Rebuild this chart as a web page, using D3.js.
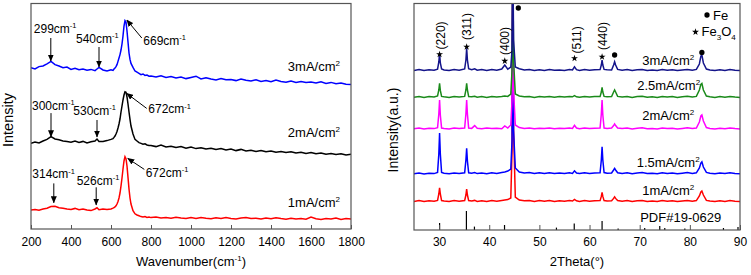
<!DOCTYPE html>
<html><head><meta charset="utf-8">
<script src="https://cdn.jsdelivr.net/npm/d3@7"></script>
<style>body{margin:0;background:#fff} svg{display:block;font-family:"Liberation Sans",Arial,sans-serif}</style>
</head><body><svg id="c" width="751" height="275"></svg>
<script>
// ---------------- Raman data (left panel) ----------------
const ramanX = [200,220,240,260,280,300,320,340,360,380,400,420,440,460,480,500,520,530,540,560,580,600,
 610,615,620,625,630,635,640,645,650,655,660,665,670,675,680,685,690,695,700,
 710,720,730,740,750,760,770,780,790,
 800,825,850,875,900,925,950,975,1000,1025,1050,1075,1100,1125,1150,1175,1200,1225,1250,1275,1300,1325,1350,1375,1400,1425,1450,1475,1500,1525,1550,1575,1600,1625,1650,1675,1700,1725,1750,1775,1800];
const raman3mA = [806,800,812,815,826,838,822,815,806,810,798,804,796,800,794,798,792,800,808,795,790,796,
 793,800,805,812,822,838,855,872,895,925,965,1015,1042,1035,990,935,880,848,828,
 808,790,784,778,772,775,768,770,764,
 765,760,766,758,762,755,760,752,758,764,750,756,750,745,752,746,748,742,750,744,740,746,738,742,736,745,738,734,740,733,738,732,735,730,736,728,733,726,730,724,722];
const raman2mA = [428,435,430,440,448,462,450,446,440,437,434,440,433,438,430,436,440,450,438,437,442,448,
 452,458,465,475,488,505,525,550,585,615,645,670,686,684,660,625,585,548,515,
 475,448,440,432,428,424,426,420,418,
 418,412,420,410,414,408,412,404,410,402,406,400,404,398,402,395,400,392,398,390,394,388,392,386,390,384,388,382,386,380,384,378,382,376,380,374,378,372,376,370,374];
const raman1mA = [95,98,94,100,104,112,114,106,104,100,98,103,96,100,95,92,100,106,96,100,97,100,
 104,107,110,116,125,138,155,180,215,255,300,340,362,352,315,258,200,155,125,
 92,76,70,66,62,60,62,58,60,
 57,60,55,58,54,59,55,52,57,53,58,54,51,56,52,57,53,50,55,58,52,54,50,55,51,56,52,49,54,50,53,49,60,51,48,53,50,55,48,52,50];
const ramanSeries = ["3mA/cm", "2mA/cm", "1mA/cm"];
const ramanColors = ["#0000ff", "#000000", "#ff0000"];
const ramanTicks = [200,400,600,800,1000,1200,1400,1600,1800];
// annotations (wavenumber, intensity at arrow tip)
const noteText = ["299","540","669","300","530","672","314","526","672"];
const noteWn   = [299,540,669,300,530,672,314,526,672];
const noteVal  = [840,810,1045,461,460,678,131,120,353];

// ---------------- XRD data (right panel) ----------------
const xrdX = [25,26,27,28,29, 29.7,29.95,30.1,30.25,30.5, 31,32,33,34, 35.1,35.35,35.5,35.65,35.9,
 36.5,37.1,37.6,38.5,39.5,40.5,41.5,42.5, 43.1,43.7, 44.3,44.55,44.7,44.85,45.2,
 46,47,48,49,50,51,52,53,54,55,56, 56.6,57,57.4, 58,59,60,61, 62.1,62.35,62.5,62.65,62.9, 63.5,
 64.4,64.8,65,65.2,65.6, 66.5,67.5,68.5,69.5,70.5,71.5,72.5,73.5,74.5,75.5,76.5,77.5,78.5,79.5,80.5,
 81.3,81.9,82.2,82.4,82.7,83.3, 84,85,86,87,88,89,90];
const xrd3mA = [798,803,797,801,799, 804,840,883,835,805, 800,797,802,799, 805,850,908,850,806,
 801,806,799,802,797,803,799,805, 825,804, 815,900,1400,950,815,
 806,800,803,797,801,798,802,799,800,797,802, 800,816,802, 798,803,799,801, 802,825,850,825,803, 801,
 800,825,841,825,803, 799,802,797,801,803,798,800,797,802,799,801,797,800,803,799,
 803,830,870,875,835,805, 800,797,801,798,802,799,797];
const xrd25mA = [664,668,663,667,665, 670,700,733,698,668, 666,663,668,665, 668,700,733,700,667,
 666,669,664,667,663,668,665,667, 670,668, 680,800,1400,850,680,
 670,666,668,663,667,665,668,664,667,665,668, 666,672,666, 664,668,665,667, 667,690,713,690,668, 666,
 667,690,700,690,668, 665,668,663,667,669,664,666,663,668,665,667,663,666,669,665,
 668,700,728,733,700,670, 666,663,667,664,668,665,663];
const xrd2mA = [506,510,505,509,507, 512,580,650,575,510, 508,505,510,507, 510,580,650,580,510,
 508,522,509,506,510,507,509,506, 520,510, 525,650,1400,700,525,
 512,508,510,506,509,507,510,506,509,507,510, 508,523,510, 506,510,507,509, 510,580,650,575,510, 508,
 510,522,530,522,510, 507,510,505,509,511,506,508,505,510,507,509,505,508,511,507,
 510,540,570,575,545,512, 508,505,509,506,510,507,505];
const xrd15mA = [281,285,280,284,282, 288,380,485,380,288, 284,281,285,282, 286,350,408,345,286,
 284,287,282,285,281,286,283,288, 290,295, 305,450,1400,500,310,
 290,285,287,282,286,283,286,282,285,283,286, 283,296,285, 282,286,283,285, 286,350,416,350,287, 284,
 285,300,308,300,286, 283,286,281,285,287,282,284,281,286,283,285,281,284,287,283,
 286,310,335,341,315,288, 284,281,285,282,286,283,281];
const xrd1mA = [143,147,142,146,144, 148,180,211,180,147, 145,142,147,144, 147,175,205,175,147,
 145,148,143,146,142,147,144,148, 150,152, 160,400,1400,500,165,
 150,146,148,143,147,144,147,143,146,144,147, 145,153,146, 143,147,144,146, 147,168,188,168,147, 145,
 146,158,166,158,147, 144,147,142,146,148,143,145,142,147,144,146,142,145,148,144,
 147,170,190,195,175,148, 145,142,146,143,147,144,142];
const xrdSeries = ["3mA/cm", "2.5mA/cm", "2mA/cm", "1.5mA/cm", "1mA/cm"];
const xrdColors = ["#14148a", "#1a8a1a", "#ff00ff", "#0000ff", "#ff0000"];
const xrdLabelPos = [70.5, 69.5, 70.5, 69.4, 70.5];
const xrdLabelVal = [825, 700, 550, 316, 175];
const xrdTicks = [30,40,50,60,70,80,90];
// PDF#19-0629 reference sticks
const pdfPos = [30.1,35.45,37.05,43.05,53.4,56.95,62.5,65.7,71.0,74.0,75.0,79.0,86.7,89.6];
const pdfVal = [35,95,17,25,12,33,45,8,10,20,10,8,10,15];
// phase markers
const hklText = ["(220)","(311)","(400)","(511)","(440)"];
const starPos = [30.1,35.5,43.1,57.0,62.5];
const starVal = [878,916,845,858,866];
const fePos = [45.8,65.0,82.4];
const feVal = [1110,875,888];

// ---------------- drawing ----------------
const svg = d3.select("#c");
const defs = svg.append("defs");
defs.append("marker").attr("id","ah").attr("markerUnits","userSpaceOnUse")
  .attr("markerWidth",7).attr("markerHeight",6).attr("refX",6.5).attr("refY",3).attr("orient","auto")
  .append("path").attr("d","M0,0L7,3L0,6Z").attr("fill","#000");

function rich(sel, parts, size) {
  let shift = 0;
  parts.forEach(([t, k]) => {
    const target = k === "sup" ? -size * 0.4 : k === "sub" ? size * 0.28 : 0;
    const ts = sel.append("tspan").text(t).attr("dy", target - shift);
    if (k !== "n") ts.attr("font-size", size * 0.62);
    shift = target;
  });
}

// ===== Left panel =====
const L = {l:31, r:351, t:3.5, b:229};
const lx = d3.scaleLinear().domain([200,1800]).range([L.l, L.r]);
const ly = d3.scaleLinear().domain([0,1127.5]).range([L.b, L.t]);
defs.append("clipPath").attr("id","clipL").append("rect")
  .attr("x",L.l).attr("y",L.t).attr("width",L.r-L.l).attr("height",L.b-L.t);
const gL = svg.append("g");
const lineL = d3.line().x((d,i)=>lx(ramanX[i])).y(d=>ly(d));
[raman1mA, raman2mA, raman3mA].forEach((s, k) => {
  gL.append("path").attr("d", lineL(s)).attr("fill","none")
    .attr("stroke", ramanColors[2-k]).attr("stroke-width",1.5).attr("clip-path","url(#clipL)");
});
const axL = gL.append("g").attr("transform",`translate(0,${L.b})`)
  .call(d3.axisBottom(lx).tickValues(ramanTicks).tickFormat(d3.format("d")).tickSizeInner(-4).tickSizeOuter(0).tickPadding(8));
axL.select(".domain").remove();
axL.selectAll("line").attr("stroke","#555");
axL.selectAll("text").attr("font-size",12).attr("fill","#000").attr("font-family","Liberation Sans, Arial, sans-serif");
gL.append("rect").attr("x",L.l).attr("y",L.t).attr("width",L.r-L.l).attr("height",L.b-L.t)
  .attr("fill","none").attr("stroke","#555").attr("stroke-width",1.2);
rich(gL.append("text").attr("x",(L.l+L.r)/2).attr("y",266).attr("text-anchor","middle").attr("font-size",13),
  [["Wavenumber(cm","n"],["-1","sup"],[")","n"]], 13);
gL.append("text").attr("transform","translate(13,120) rotate(-90)").attr("text-anchor","middle")
  .attr("font-size",14.5).text("Intensity");
// series labels
const ramanLabelVal = [790, 461, 110];
ramanSeries.forEach((s,i) => {
  rich(gL.append("text").attr("x", lx(1745)).attr("y", ly(ramanLabelVal[i])).attr("text-anchor","end").attr("font-size",13),
    [[s,"n"],["2","sup"]], 13);
});
// annotations
const noteTipDx = [0,0,2,0,0,1.3,0,0,2.3];
const noteTail = [[0,-23],[0,-20],[15,18],[0,-23.7],[0,-17],[20,15],[0,-19.4],[0,-17.7],[16.6,11]];
const noteTextOff = [[-17,-5],[-23,-4],[1.5,6.7],[-19,-3],[-23.7,-5],[1.6,5],[-21.5,-5],[-19.5,-2.3],[1.4,7.4]];
noteText.forEach((t,i) => {
  const tx = lx(noteWn[i]) + noteTipDx[i], ty = ly(noteVal[i]);
  const sx = tx + noteTail[i][0], sy = ty + noteTail[i][1];
  gL.append("line").attr("x1",sx).attr("y1",sy).attr("x2",tx).attr("y2",ty)
    .attr("stroke","#000").attr("stroke-width",1).attr("marker-end","url(#ah)");
  rich(gL.append("text").attr("x", sx + noteTextOff[i][0]).attr("y", sy + noteTextOff[i][1]).attr("font-size",12),
    [[t+"cm","n"],["-1","sup"]], 12);
});

// ===== Right panel =====
const R = {l:414, r:740, t:3.5, b:230};
const rx = d3.scaleLinear().domain([25,90]).range([R.l, R.r]);
const ry = d3.scaleLinear().domain([0,1132.5]).range([R.b, R.t]);
defs.append("clipPath").attr("id","clipR").append("rect")
  .attr("x",R.l).attr("y",R.t).attr("width",R.r-R.l).attr("height",R.b-R.t);
const gR = svg.append("g");
const lineR = d3.line().x((d,i)=>rx(xrdX[i])).y(d=>ry(d));
const xrdAll = [xrd3mA, xrd25mA, xrd2mA, xrd15mA, xrd1mA];
[4,3,2,1,0].forEach(k => {
  gR.append("path").attr("d", lineR(xrdAll[k])).attr("fill","none")
    .attr("stroke", xrdColors[k]).attr("stroke-width",1.5).attr("clip-path","url(#clipR)");
});
// PDF sticks
gR.selectAll(".pdf").data(pdfPos).enter().append("line")
  .attr("x1",d=>rx(d)).attr("x2",d=>rx(d)).attr("y1",ry(0)).attr("y2",(d,i)=>ry(pdfVal[i]))
  .attr("stroke","#000").attr("stroke-width",1.2);
const axR = gR.append("g").attr("transform",`translate(0,${R.b})`)
  .call(d3.axisBottom(rx).tickValues(xrdTicks).tickSizeInner(-5).tickSizeOuter(0).tickPadding(7));
axR.select(".domain").remove();
axR.selectAll("line").attr("stroke","#555");
axR.selectAll("text").attr("font-size",12).attr("fill","#000").attr("font-family","Liberation Sans, Arial, sans-serif");
gR.append("rect").attr("x",R.l).attr("y",R.t).attr("width",R.r-R.l).attr("height",R.b-R.t)
  .attr("fill","none").attr("stroke","#555").attr("stroke-width",1.2);
gR.append("text").attr("x",(R.l+R.r)/2).attr("y",266).attr("text-anchor","middle").attr("font-size",13).text("2Theta(°)");
gR.append("text").attr("transform","translate(397.5,130) rotate(-90)").attr("text-anchor","middle")
  .attr("font-size",14).text("Intensity(a.u.)");
// series labels
xrdSeries.forEach((s,i) => {
  rich(gR.append("text").attr("x", rx(xrdLabelPos[i])).attr("y", ry(xrdLabelVal[i])).attr("font-size",13),
    [[s,"n"],["2","sup"]], 13);
});
gR.append("text").attr("x", rx(70.1)).attr("y", ry(41.5)).attr("font-size",13).text("PDF#19-0629");
// markers
const star = d3.symbol().type(d3.symbolStar).size(15);
const dot = d3.symbol().type(d3.symbolCircle).size(22);
starPos.forEach((p,i) => {
  gR.append("path").attr("d", star()).attr("transform",`translate(${rx(p)},${ry(starVal[i])})`).attr("fill","#000");
});
fePos.forEach((p,i) => {
  gR.append("path").attr("d", dot()).attr("transform",`translate(${rx(p)},${ry(feVal[i])})`).attr("fill","#000");
});
const hklDx = [1.3,0.6,0.4,2,1];
const hklDy = [-5,-6.7,-6,-5,-6.7];
hklText.forEach((t,i) => {
  gR.append("text").attr("transform",`translate(${rx(starPos[i])+hklDx[i]},${ry(starVal[i])+hklDy[i]}) rotate(-90)`)
    .attr("dy","0.35em").attr("font-size",12).text(t);
});
// legend
gR.append("path").attr("d", dot()).attr("transform",`translate(${R.r-33},15)`).attr("fill","#000");
gR.append("text").attr("x",R.r-27).attr("y",19.5).attr("font-size",13).text("Fe");
gR.append("path").attr("d", star()).attr("transform",`translate(${R.r-44.5},32)`).attr("fill","#000");
rich(gR.append("text").attr("x",R.r-38.5).attr("y",36).attr("font-size",13),
  [["Fe","n"],["3","sub"],["O","n"],["4","sub"]], 13);
</script></body></html>
